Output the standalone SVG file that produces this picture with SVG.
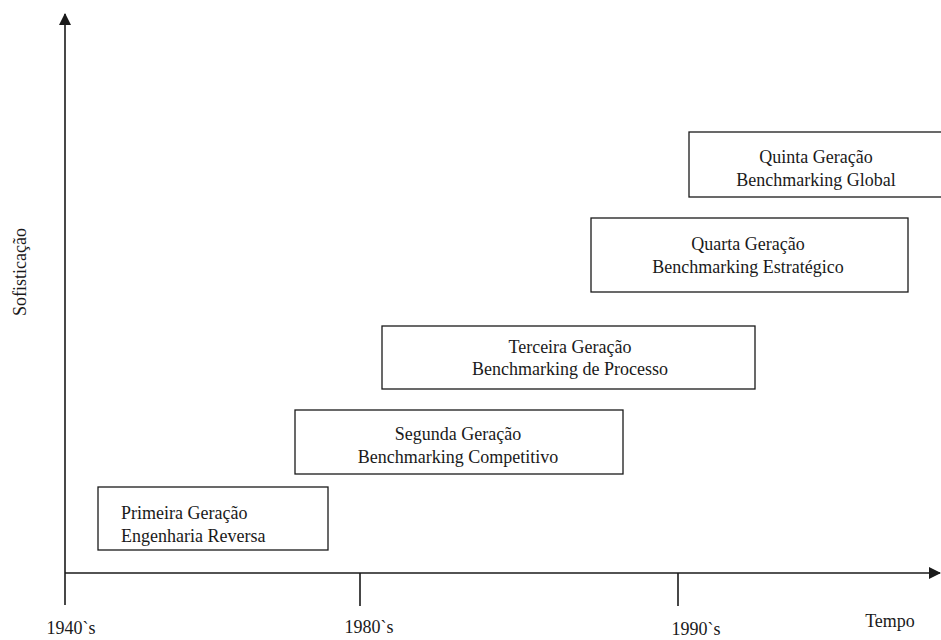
<svg xmlns="http://www.w3.org/2000/svg" width="941" height="640" viewBox="0 0 941 640">
  <style>
    .axis { stroke: #1a1a1a; stroke-width: 1.6; fill: none; }
    .box rect { fill: #ffffff; stroke: #1a1a1a; stroke-width: 1.3; }
    text { font-family: "Liberation Serif", "Times New Roman", serif; font-size: 18px; fill: #1a1a1a; }
    .c { text-anchor: middle; }
  </style>
  <defs>
    <marker id="arrow" viewBox="0 0 12 12" refX="11" refY="6" markerWidth="12" markerHeight="12" markerUnits="userSpaceOnUse" orient="auto">
      <path d="M0,0 L12,6 L0,12 z" fill="#1a1a1a"/>
    </marker>
  </defs>
  <rect width="941" height="640" fill="#ffffff"/>

  <!-- axes and ticks -->
  <g id="connectors">
    <line class="axis" x1="65" y1="605" x2="65" y2="14" marker-end="url(#arrow)"/>
    <line class="axis" x1="65" y1="573" x2="940" y2="573" marker-end="url(#arrow)"/>
    <line class="axis" x1="360" y1="573" x2="360" y2="606"/>
    <line class="axis" x1="678" y1="573" x2="678" y2="606"/>
  </g>

  <!-- axis labels -->
  <g id="labels">
    <text x="21" y="272" class="c" transform="rotate(-90 21 272)" dy="5">Sofisticação</text>
    <text x="71" y="634" class="c">1940`s</text>
    <text x="369" y="633" class="c">1980`s</text>
    <text x="696" y="635" class="c">1990`s</text>
    <text x="890" y="627" class="c">Tempo</text>
  </g>

  <!-- generations -->
  <g id="gen1" class="box">
    <rect x="98" y="487" width="230" height="63"/>
    <text x="121" y="519">Primeira Geração</text>
    <text x="121" y="542">Engenharia Reversa</text>
  </g>
  <g id="gen2" class="box">
    <rect x="295" y="410" width="328" height="64"/>
    <text x="458" y="440" class="c">Segunda Geração</text>
    <text x="458" y="463" class="c">Benchmarking Competitivo</text>
  </g>
  <g id="gen3" class="box">
    <rect x="382" y="326" width="373" height="63"/>
    <text x="570" y="353" class="c">Terceira Geração</text>
    <text x="570" y="375" class="c">Benchmarking de Processo</text>
  </g>
  <g id="gen4" class="box">
    <rect x="591" y="218" width="317" height="74"/>
    <text x="748" y="250" class="c">Quarta Geração</text>
    <text x="748" y="273" class="c">Benchmarking Estratégico</text>
  </g>
  <g id="gen5" class="box">
    <rect x="689" y="132" width="270" height="65"/>
    <text x="816" y="163" class="c">Quinta Geração</text>
    <text x="816" y="186" class="c">Benchmarking Global</text>
  </g>
</svg>
